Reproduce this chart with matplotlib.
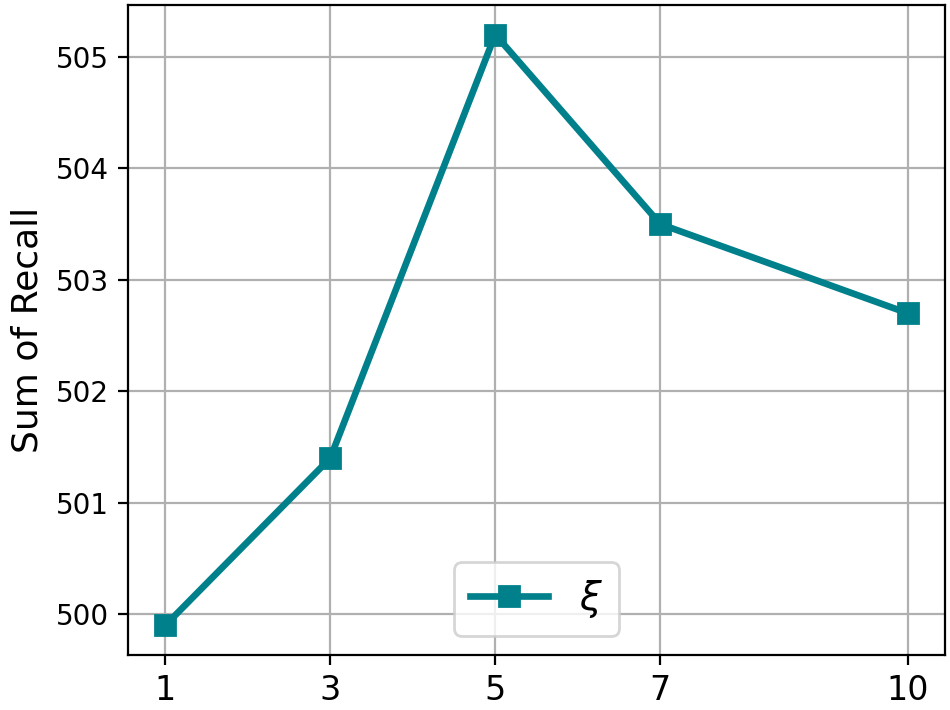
import numpy as np
import matplotlib.pyplot as plt

xi = [1, 3, 5, 7, 10]
recall_sum = [499.9, 501.4, 505.2, 503.5, 502.7]

fig = plt.figure(figsize=(4.75, 3.55), dpi=200)
ax = fig.add_axes([128/950, 55/710, (945-128)/950, (655-5)/710])
ax.plot(xi, recall_sum, color='#00808B', marker='s', markersize=7, linewidth=2.4, label=r'$\xi$')
ax.set_xticks(xi)
ax.tick_params(axis='x', labelsize=12)
ax.tick_params(axis='y', labelsize=10)
ax.set_ylabel('Sum of Recall', fontsize=13)
ax.grid(True)
ax.legend(loc='lower center', fontsize=14)

plt.savefig('out.png', dpi=200)
